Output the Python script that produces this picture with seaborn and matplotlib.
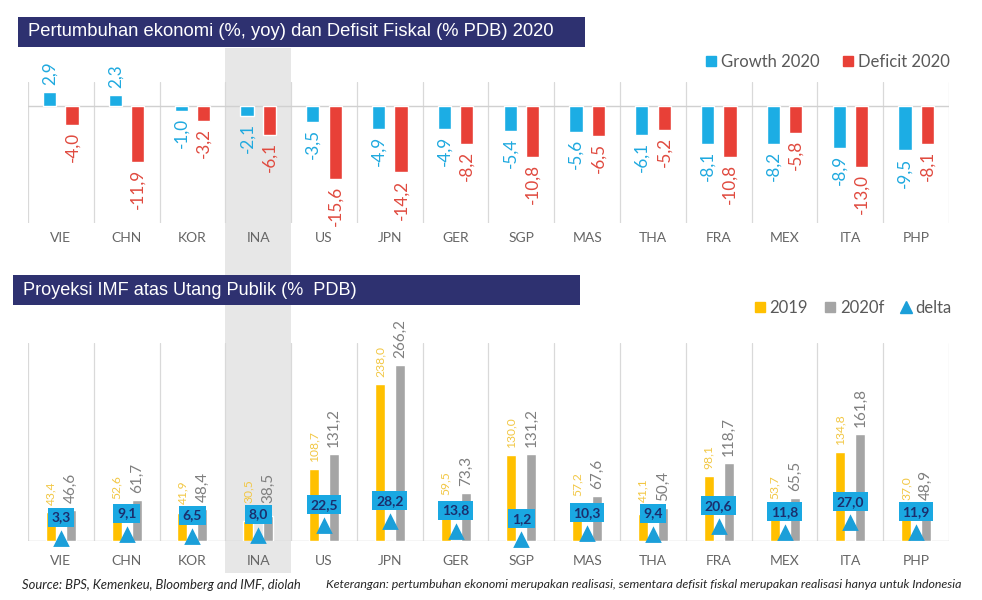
import numpy as np
import pandas as pd
import matplotlib
matplotlib.use("Agg")
import matplotlib.pyplot as plt
import seaborn as sns
from matplotlib.patches import Rectangle
from matplotlib.lines import Line2D
from matplotlib.transforms import blended_transform_factory

# ---------------- data ----------------
countries = ["VIE", "CHN", "KOR", "INA", "US", "JPN", "GER", "SGP", "MAS", "THA", "FRA", "MEX", "ITA", "PHP"]
growth_2020 = [2.9, 2.3, -1.0, -2.1, -3.5, -4.9, -4.9, -5.4, -5.6, -6.1, -8.1, -8.2, -8.9, -9.5]
deficit_2020 = [-4.0, -11.9, -3.2, -6.1, -15.6, -14.2, -8.2, -10.8, -6.5, -5.2, -10.8, -5.8, -13.0, -8.1]
debt_2019 = [43.4, 52.6, 41.9, 30.5, 108.7, 238.0, 59.5, 130.0, 57.2, 41.1, 98.1, 53.7, 134.8, 37.0]
debt_2020f = [46.6, 61.7, 48.4, 38.5, 131.2, 266.2, 73.3, 131.2, 67.6, 50.4, 118.7, 65.5, 161.8, 48.9]
delta = [3.3, 9.1, 6.5, 8.0, 22.5, 28.2, 13.8, 1.2, 10.3, 9.4, 20.6, 11.8, 27.0, 11.9]
highlight = "INA"

title_top = "Pertumbuhan ekonomi (%, yoy) dan Defisit Fiskal (% PDB) 2020"
title_bottom = "Proyeksi IMF atas Utang Publik (%  PDB)"
source_text = "Source: BPS, Kemenkeu, Bloomberg and IMF, diolah"
note_text = ("Keterangan: pertumbuhan ekonomi merupakan realisasi, sementara defisit fiskal "
             "merupakan realisasi hanya untuk Indonesia")

# ---------------- style ----------------
sns.set_style("white")
plt.rcParams["font.family"] = ["Lato", "DejaVu Sans"]

growth_color = "#1cade4"
deficit_color = "#e84037"
c2019 = "#ffc000"
c2020 = "#a5a5a5"
delta_color = "#1b9fd9"
box_fc = "#1aa8e2"
box_text = "#1b2f6e"
navy = "#2e3170"
grid_c = "#d9d9d9"
tick_c = "#666666"


def fmt(v):
    return f"{v:.1f}".replace(".", ",")


W, H = 982, 600
DPI = 100
fig = plt.figure(figsize=(W / DPI, H / DPI), dpi=DPI)

ax1 = fig.add_axes([28 / W, 1 - 223 / H, (949 - 28) / W, 141 / H])
ax2 = fig.add_axes([28 / W, 1 - 541 / H, (949 - 28) / W, 198 / H])
for ax in (ax1, ax2):
    ax.set_facecolor("none")

# ---------------- top panel ----------------
df1 = pd.DataFrame({
    "country": countries * 2,
    "value": growth_2020 + deficit_2020,
    "series": ["Growth 2020"] * len(countries) + ["Deficit 2020"] * len(countries),
})
sns.barplot(data=df1, x="country", y="value", hue="series", order=countries,
            palette=[growth_color, deficit_color], width=0.68, gap=0.41,
            saturation=1, legend=False, ax=ax1, zorder=3)
ax1.set_ylim(-25.0, 5.13)
ax1.set_xlim(-0.5, len(countries) - 0.5)
lab_cols = ["#1fa9df", "#e04a3f"]
vals = [growth_2020, deficit_2020]
for cont, col, v in zip(ax1.containers, lab_cols, vals):
    ax1.bar_label(cont, labels=[fmt(x) for x in v], padding=5, rotation=90,
                  color=col, fontsize=12.3)
ax1.axhline(0, color="#d0d0d0", lw=1, zorder=1)

# ---------------- bottom panel ----------------
df2 = pd.DataFrame({
    "country": countries * 2,
    "value": debt_2019 + debt_2020f,
    "series": ["2019"] * len(countries) + ["2020f"] * len(countries),
})
sns.barplot(data=df2, x="country", y="value", hue="series", order=countries,
            palette=[c2019, c2020], width=0.608, gap=0.5,
            saturation=1, legend=False, ax=ax2, zorder=3)
ax2.set_ylim(0, 300)
ax2.set_xlim(-0.5, len(countries) - 0.5)
ax2.axhline(0, color="#d0d0d0", lw=1, zorder=1)

n_lines_before = len(ax2.lines)
sns.pointplot(x=countries, y=delta, order=countries, color=delta_color,
              linestyle="none", marker="^", markersize=8, errorbar=None,
              ax=ax2, zorder=6)
for ln in ax2.lines[n_lines_before:]:
    ln.set_clip_on(False)
    ln.set_zorder(6)
ax2.set_xlim(-0.5, len(countries) - 0.5)
ax2.set_ylim(0, 300)

boxes = []
for i, d in enumerate(delta):
    a = ax2.annotate(fmt(d), xy=(i, d), xytext=(0, 15.5), textcoords="offset points",
                     ha="center", va="center", fontsize=10, fontweight="bold",
                     color=box_text, zorder=7,
                     bbox=dict(boxstyle="square,pad=0.26", fc=box_fc, ec="none"))
    boxes.append(a)

# ---------------- common axes styling ----------------
for ax, pad in ((ax1, 6.5), (ax2, 10)):
    for s in ax.spines.values():
        s.set_visible(False)
    for k in range(len(countries) + 1):
        ax.axvline(k - 0.5, color=grid_c, lw=0.9, zorder=0)
    ax.set_yticks([])
    ax.set_xticks(range(len(countries)))
    ax.set_xticklabels(countries)
    ax.tick_params(axis="x", length=0, pad=pad, labelsize=10, labelcolor=tick_c)
    ax.set_xlabel("")
    ax.set_ylabel("")

# value labels of the debt bars: above the bar, lifted clear of the delta box
fig.canvas.draw()
renderer = fig.canvas.get_renderer()
box_tops = [b.get_bbox_patch().get_window_extent(renderer).y1 for b in boxes]
for cont, v, col, fs in ((ax2.containers[0], debt_2019, "#f2c744", 8.7),
                         (ax2.containers[1], debt_2020f, "#7f7f7f", 11)):
    for i, (p, val) in enumerate(zip(cont.patches, v)):
        xc = p.get_x() + p.get_width() / 2
        top_px = ax2.transData.transform((xc, val))[1]
        pad_pt = max(5.0, (box_tops[i] + 2 - top_px) * 72 / DPI)
        ax2.annotate(fmt(val), xy=(xc, val), xytext=(0, pad_pt),
                     textcoords="offset points", rotation=90, ha="center",
                     va="bottom", color=col, fontsize=fs, zorder=5)

# ---------------- highlight band for Indonesia ----------------
hi = countries.index(highlight)
trans = blended_transform_factory(ax1.transData, fig.transFigure)
fig.add_artist(Rectangle((hi - 0.5, 1 - 573 / H), 1.0, (573 - 48) / H,
                         transform=trans, fc="#e7e7e7", ec="none", zorder=-1))

# ---------------- title bars ----------------
fig.add_artist(Rectangle((18 / W, 1 - 47 / H), (585 - 18) / W, 30 / H,
                         transform=fig.transFigure, fc=navy, ec="none", zorder=3))
fig.text(28 / W, 1 - 32 / H, title_top, color="white", fontsize=13.2,
         family=["Liberation Sans", "DejaVu Sans"], va="center", ha="left", zorder=4)
fig.add_artist(Rectangle((13 / W, 1 - 305 / H), (580 - 13) / W, 30 / H,
                         transform=fig.transFigure, fc=navy, ec="none", zorder=3))
fig.text(23 / W, 1 - 290 / H, title_bottom, color="white", fontsize=13.1,
         family=["Liberation Sans", "DejaVu Sans"], va="center", ha="left", zorder=4)

# ---------------- legends ----------------
h1 = [Line2D([], [], marker="s", ls="none", color=growth_color, markersize=7),
      Line2D([], [], marker="s", ls="none", color=deficit_color, markersize=7)]
fig.legend(h1, ["Growth 2020", "Deficit 2020"], loc="center right",
           bbox_to_anchor=(950 / W, 1 - 62 / H), ncol=2, frameon=False,
           fontsize=12, handletextpad=0.2, columnspacing=1.3, handlelength=0.8,
           borderaxespad=0, borderpad=0, labelcolor="#595959")
h2 = [Line2D([], [], marker="s", ls="none", color=c2019, markersize=7),
      Line2D([], [], marker="s", ls="none", color=c2020, markersize=7),
      Line2D([], [], marker="^", ls="none", color=delta_color, markersize=8)]
fig.legend(h2, ["2019", "2020f", "delta"], loc="center right",
           bbox_to_anchor=(952 / W, 1 - 308 / H), ncol=3, frameon=False,
           fontsize=12, handletextpad=0.2, columnspacing=0.9, handlelength=0.8,
           borderaxespad=0, borderpad=0, labelcolor="#595959")

# ---------------- footnotes ----------------
fig.text(22 / W, 1 - 585 / H, source_text, style="italic", fontsize=9.4,
         color="#262626", va="center", ha="left")
fig.text(326 / W, 1 - 585 / H, note_text, style="italic", fontsize=8.9,
         color="#262626", va="center", ha="left")

fig.savefig("out.png", dpi=DPI)
